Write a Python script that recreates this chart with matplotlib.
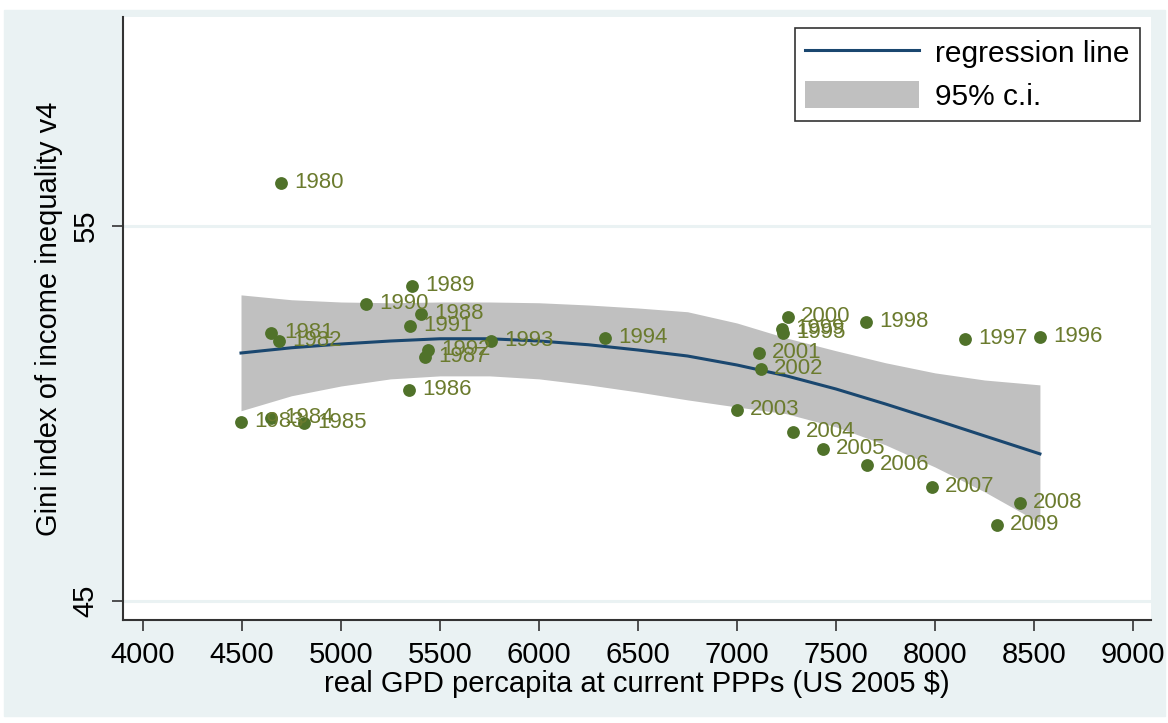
import numpy as np
import matplotlib.pyplot as plt
from matplotlib.patches import Rectangle, Patch
from matplotlib.lines import Line2D

plt.rcParams['font.family'] = ['Liberation Sans', 'DejaVu Sans']

# scatter data
years = [1980, 1981, 1982, 1983, 1984, 1985, 1986, 1987, 1988, 1989,
         1990, 1991, 1992, 1993, 1994, 1995, 1996, 1997, 1998, 1999,
         2000, 2001, 2002, 2003, 2004, 2005, 2006, 2007, 2008, 2009]
gdp = [4697, 4646, 4687, 4495, 4646, 4813, 5343, 5424, 5404, 5359,
       5126, 5348, 5439, 5758, 6333, 7232, 8530, 8152, 7652, 7227,
       7258, 7111, 7121, 7000, 7283, 7434, 7657, 7985, 8429, 8313]
gini = [56.15, 52.15, 51.93, 49.77, 49.88, 49.75, 50.63, 51.51, 52.65, 53.40,
        52.92, 52.33, 51.69, 51.93, 52.01, 52.15, 52.04, 51.99, 52.44, 52.25,
        52.57, 51.61, 51.19, 50.09, 49.51, 49.05, 48.63, 48.04, 47.61, 47.03]

# quadratic fit and its 95% band
fit_x = [4495, 4750, 5000, 5250, 5500, 5750, 6000, 6250, 6500, 6750,
         7000, 7250, 7500, 7750, 8000, 8250, 8530]
fit_y = [51.61, 51.75, 51.85, 51.93, 51.99, 51.99, 51.93, 51.83, 51.69, 51.53,
         51.29, 51.00, 50.65, 50.25, 49.83, 49.40, 48.92]
ci_hi = [53.16, 53.03, 52.97, 52.95, 52.97, 52.97, 52.95, 52.89, 52.81, 52.71,
         52.41, 52.01, 51.67, 51.35, 51.08, 50.89, 50.76]
ci_lo = [50.07, 50.47, 50.73, 50.92, 51.00, 51.00, 50.92, 50.76, 50.57, 50.36,
         50.17, 49.99, 49.64, 49.16, 48.57, 47.91, 47.08]

xticks = list(range(4000, 9001, 500))
yticks = [45, 55]

bg = '#eaf2f3'
navy = '#1a476f'
band = '#c0c0c0'
mk = '#50722a'
lab = '#6b7b2e'

fig = plt.figure(figsize=(11.68, 7.23), dpi=100)
fig.patches.append(Rectangle((4/1168, 7/723), 1161/1168, 706/723,
                             transform=fig.transFigure, color=bg, zorder=-10))
ax = fig.add_axes([123/1168, 103/723, 1028/1168, 603/723])
ax.set_facecolor('white')

for yv in yticks:
    ax.axhline(yv, color=bg, lw=2.2, zorder=1)

ax.fill_between(fit_x, ci_lo, ci_hi, color=band, lw=0, zorder=2)
ax.plot(fit_x, fit_y, color=navy, lw=2.2, zorder=3)
ax.scatter(gdp, gini, s=85, color=mk, zorder=4, linewidths=0)
for yr, xv, yv in zip(years, gdp, gini):
    ax.annotate(str(yr), (xv, yv), xytext=(9.5, 0), textcoords='offset points',
                va='center', ha='left', fontsize=16, color=lab, zorder=5)

ax.set_xlim(3899, 9091)
ax.set_ylim(44.49, 60.57)
ax.set_xticks(xticks)
ax.set_yticks(yticks)
ax.set_yticklabels([str(v) for v in yticks], rotation=90, va='center')
ax.tick_params(axis='both', length=8, width=1.2, color='#333333',
               labelsize=21)
ax.tick_params(axis='x', pad=7)
ax.tick_params(axis='y', pad=9)
for s in ['top', 'right']:
    ax.spines[s].set_visible(False)
for s in ['left', 'bottom']:
    ax.spines[s].set_color('#333333')
    ax.spines[s].set_linewidth(1.5)

ax.set_xlabel('real GPD percapita at current PPPs (US 2005 $)', fontsize=21, labelpad=1)
ax.set_ylabel('Gini index of income inequality v4', fontsize=21, labelpad=6)

handles = [Line2D([0], [0], color=navy, lw=2.2),
           Patch(facecolor=band, edgecolor='none')]
leg = ax.legend(handles, ['regression line', '95% c.i.'], loc='upper right',
                bbox_to_anchor=(0.9893, 0.9818), borderaxespad=0,
                fontsize=21.5, frameon=True, fancybox=False, edgecolor='black',
                handlelength=3.8, handleheight=1.0, borderpad=0.35,
                labelspacing=0.45, handletextpad=0.55)
leg.get_frame().set_linewidth(1.2)

plt.savefig('out.png', dpi=100)
